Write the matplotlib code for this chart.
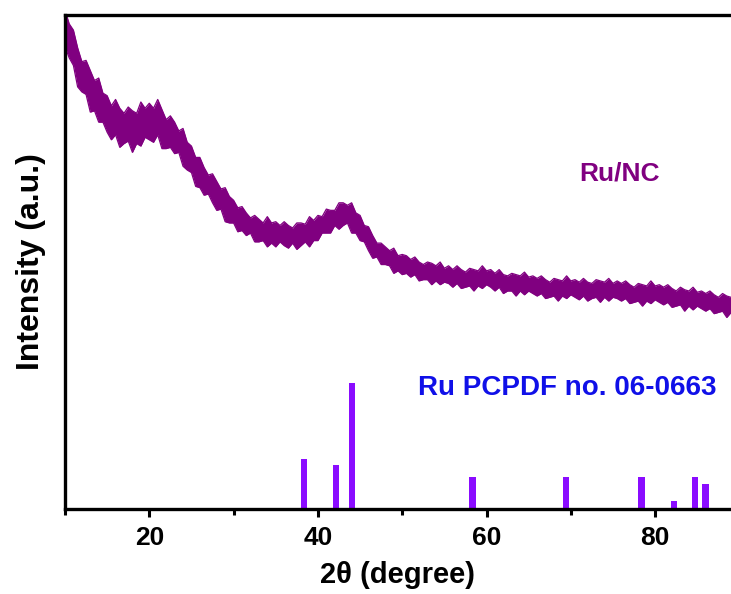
import matplotlib
matplotlib.use('Agg')
import matplotlib.pyplot as plt
import numpy as np
from matplotlib.ticker import MultipleLocator

plt.rc('font', family=['Liberation Sans', 'DejaVu Sans'], weight='bold')

# Ru/NC pattern: top and bottom edge of the noisy band,
# one value every 0.5 deg from 10 to 89
two_theta = np.arange(10.0, 89.01, 0.5)
ru_nc_hi = [396, 385, 380, 366, 355, 356, 348, 340, 342, 330,
            328, 320, 325, 318, 314, 319, 316, 314, 323, 318,
            322, 318, 325, 317, 309, 312, 307, 300, 302, 291,
            288, 279, 279, 271, 265, 266, 260, 254, 255, 248,
            245, 239, 240, 235, 231, 233, 230, 227, 232, 227,
            228, 225, 228, 225, 223, 227, 227, 226, 232, 229,
            233, 232, 238, 237, 237, 243, 243, 241, 243, 235,
            233, 225, 224, 217, 211, 211, 208, 205, 207, 201,
            202,
            201, 198, 200, 196, 194, 196, 195, 193, 196, 191,
            193, 190, 193, 190, 188, 191, 190, 189, 193, 189,
            190, 187, 190, 186, 185, 187, 186, 185, 188, 184,
            185, 183, 185, 182, 180, 183, 182, 181, 185, 181,
            182, 180, 183, 180, 179, 182, 181, 180, 183, 179,
            181, 179, 181, 178, 176, 179, 178, 177, 181, 177,
            178, 176, 178, 175, 173, 176, 174, 173, 176, 172,
            173, 171, 173, 170, 168, 171, 169, 168]
ru_nc_lo = [367, 358, 352, 335, 331, 329, 315, 316, 307, 307,
            299, 293, 297, 287, 290, 292, 283, 290, 288, 295,
            293, 291, 297, 286, 286, 287, 282, 283, 272, 269,
            267, 256, 255, 249, 250, 243, 237, 238, 228, 227,
            227, 220, 221, 217, 219, 212, 212, 213, 208, 211,
            208, 212, 209, 207, 211, 206, 209, 212, 208, 213,
            213, 219, 219, 219, 225, 222, 225, 227, 219, 219,
            213, 212, 205, 199, 200, 194, 194, 193, 187, 189,
            186,
            187, 184, 186, 181, 182, 182, 178, 181, 178, 180,
            179, 176, 179, 175, 176, 177, 173, 177, 175, 178,
            176, 173, 176, 171, 173, 173, 169, 173, 170, 173,
            171, 169, 171, 167, 168, 169, 165, 169, 167, 170,
            168, 166, 169, 165, 167, 168, 164, 168, 165, 168,
            167, 165, 167, 163, 164, 165, 161, 165, 163, 166,
            164, 162, 164, 160, 161, 162, 157, 161, 158, 161,
            159, 157, 159, 155, 156, 157, 152, 156]

# Ru reference lines (PCPDF 06-0663)
ref_pos = [38.39, 42.15, 44.01, 58.33, 69.41, 78.39, 82.22, 84.71, 85.96]
ref_int = [40, 35, 100, 25, 25, 25, 6, 25, 20]

fig = plt.figure(figsize=(7.31, 5.94), dpi=100)
ax = fig.add_axes([0.0889, 0.1431, 0.9111, 0.8316])

purple = '#800080'
ax.fill_between(two_theta, ru_nc_lo, ru_nc_hi, color=purple, lw=0)
ax.plot(two_theta, ru_nc_hi, color=purple, lw=0.9)
ax.plot(two_theta, ru_nc_lo, color=purple, lw=0.9)
ax.bar(ref_pos, ref_int, width=0.75, color='#8a0cff', align='center')

ax.set_xlim(10, 89)
ax.set_ylim(0, 392)
ax.set_yticks([])
ax.xaxis.set_major_locator(MultipleLocator(20))
ax.xaxis.set_minor_locator(MultipleLocator(10))
ax.tick_params(axis='x', which='major', length=6, width=2.2, direction='out',
               labelsize=19, pad=6)
ax.tick_params(axis='x', which='minor', length=4.5, width=2.2, direction='out')
for s in ['left', 'bottom', 'top']:
    ax.spines[s].set_linewidth(2.4)
ax.spines['right'].set_visible(False)

ax.set_xlabel('2\u03b8 (degree)', fontsize=21, fontweight='bold', labelpad=8)
ax.set_ylabel('Intensity (a.u.)', fontsize=23, fontweight='bold', labelpad=14)

ax.text(0.832, 0.680, 'Ru/NC', transform=ax.transAxes, color=purple,
        fontsize=19, fontweight='bold', ha='center', va='center')
ax.text(0.754, 0.245, 'Ru PCPDF no. 06-0663', transform=ax.transAxes,
        color='#1010e8', fontsize=20, fontweight='bold', ha='center', va='center')

fig.savefig('out.png', dpi=100)
